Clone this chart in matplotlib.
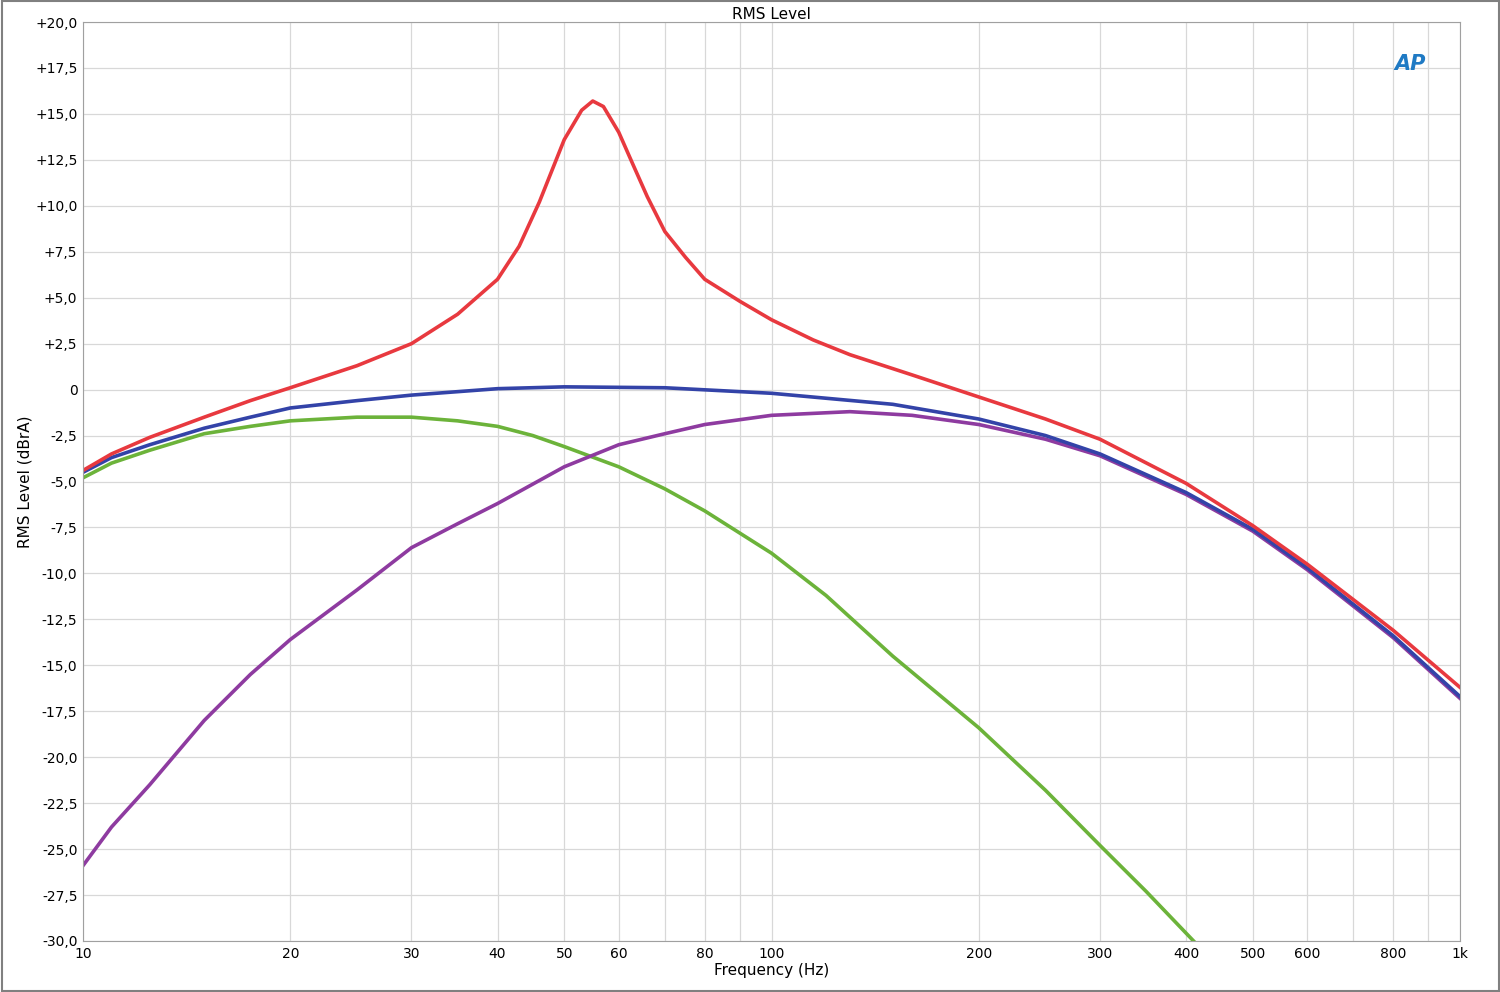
import matplotlib
matplotlib.use("Agg")
import matplotlib.pyplot as plt
from matplotlib.ticker import FixedLocator, FuncFormatter, NullFormatter

# values (Hz, dBrA)
red_f = [10, 11, 12.5, 15, 17.5, 20, 25, 30, 35, 40, 43, 46, 50, 53, 55, 57, 60, 63, 66, 70, 75, 80, 90, 100, 115, 130, 160, 200, 250, 300, 400, 500, 600, 800, 1000]
red_db = [-4.4, -3.5, -2.6, -1.5, -0.6, 0.1, 1.3, 2.5, 4.1, 6.0, 7.8, 10.2, 13.6, 15.2, 15.7, 15.4, 14.0, 12.2, 10.5, 8.6, 7.2, 6.0, 4.8, 3.8, 2.7, 1.9, 0.8, -0.4, -1.6, -2.7, -5.1, -7.4, -9.5, -13.1, -16.2]

blue_f = [10, 11, 12.5, 15, 17.5, 20, 25, 30, 40, 50, 70, 100, 150, 200, 250, 300, 400, 500, 600, 800, 1000]
blue_db = [-4.5, -3.7, -3.0, -2.1, -1.5, -1.0, -0.6, -0.3, 0.05, 0.15, 0.1, -0.2, -0.8, -1.6, -2.5, -3.5, -5.6, -7.6, -9.7, -13.4, -16.7]

green_f = [10, 11, 12.5, 15, 17.5, 20, 25, 30, 35, 40, 45, 50, 60, 70, 80, 100, 120, 150, 200, 250, 300, 350, 420]
green_db = [-4.8, -4.0, -3.3, -2.4, -2.0, -1.7, -1.5, -1.5, -1.7, -2.0, -2.5, -3.1, -4.2, -5.4, -6.6, -8.9, -11.2, -14.5, -18.4, -21.8, -24.8, -27.3, -30.4]

purple_f = [10, 11, 12.5, 15, 17.5, 20, 25, 30, 35, 40, 50, 60, 70, 80, 100, 130, 160, 200, 250, 300, 400, 500, 600, 800, 1000]
purple_db = [-25.9, -23.8, -21.5, -18.0, -15.5, -13.6, -10.9, -8.6, -7.3, -6.2, -4.2, -3.0, -2.4, -1.9, -1.4, -1.2, -1.4, -1.9, -2.7, -3.6, -5.7, -7.7, -9.8, -13.5, -16.8]

x_ticks = [10, 20, 30, 40, 50, 60, 80, 100, 200, 300, 400, 500, 600, 800, 1000]
x_labels = ["10", "20", "30", "40", "50", "60", "80", "100", "200", "300", "400", "500", "600", "800", "1k"]
x_grid = [10, 20, 30, 40, 50, 60, 70, 80, 90, 100, 200, 300, 400, 500, 600, 700, 800, 900, 1000]

fig = plt.figure(figsize=(15, 9.92), dpi=100)
ax = fig.add_axes([83 / 1500, 1 - 941 / 992, 1377 / 1500, 919 / 992])

lw = 2.6
ax.plot(green_f, green_db, color="#6cb33a", lw=lw)
ax.plot(purple_f, purple_db, color="#8e3ba0", lw=lw)
ax.plot(blue_f, blue_db, color="#3343a8", lw=lw)
ax.plot(red_f, red_db, color="#e8393f", lw=lw)

ax.set_xscale("log")
ax.set_xlim(10, 1000)
ax.set_ylim(-30, 20)
ax.xaxis.set_major_locator(FixedLocator(x_grid))
ax.xaxis.set_minor_formatter(NullFormatter())
ax.xaxis.set_major_formatter(FuncFormatter(
    lambda v, p: x_labels[x_ticks.index(round(v))] if round(v) in x_ticks else ""))
ax.set_yticks([-30 + 2.5 * i for i in range(21)])


def yfmt(v, p):
    if abs(v) < 1e-9:
        return "0"
    return f"{v:+.1f}".replace(".", ",")


ax.yaxis.set_major_formatter(FuncFormatter(yfmt))
ax.tick_params(which="both", length=0, labelsize=10, pad=4)
ax.grid(True, color="#d8d8d8", lw=0.9)
for s in ax.spines.values():
    s.set_color("#a0a0a0")

ax.set_xlabel("Frequency (Hz)", fontsize=11, labelpad=2)
ax.set_ylabel("RMS Level (dBrA)", fontsize=11, labelpad=2)
ax.set_title("RMS Level", fontsize=11, pad=2)
ax.text(0.975, 0.965, "AP", transform=ax.transAxes, color="#1f7ac4",
        fontsize=15, fontweight="bold", fontstyle="italic", ha="right", va="top")

fig.patches.append(plt.Rectangle((0.001, 0.001), 0.998, 0.998, transform=fig.transFigure,
                                 fill=False, edgecolor="#808080", lw=1.5))
fig.savefig("out.png", dpi=100)
